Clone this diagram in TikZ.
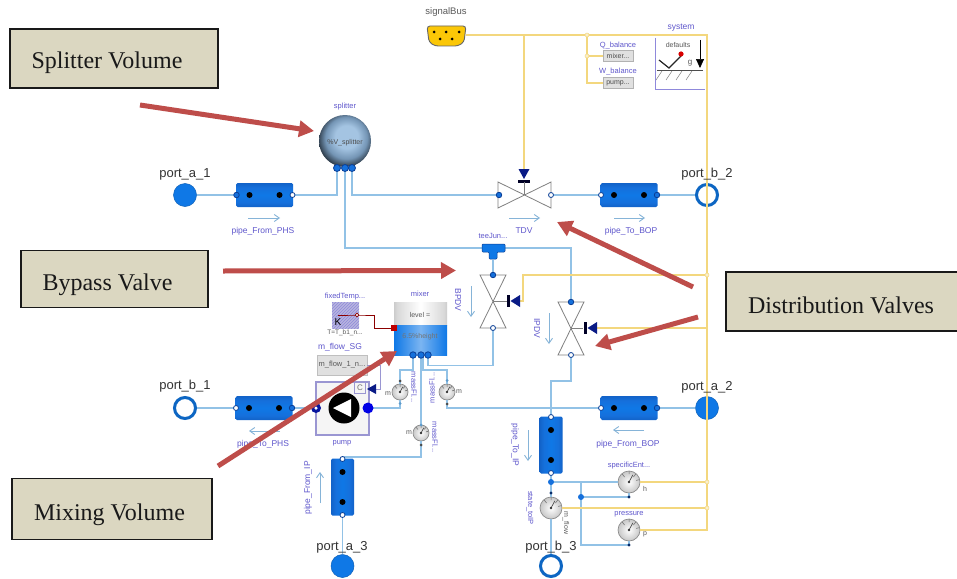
\documentclass[tikz,border=0pt]{standalone}
\usepackage{fontspec}
\setmainfont{Liberation Serif}
\setsansfont{Liberation Sans}
\usetikzlibrary{arrows.meta,patterns,calc}
\definecolor{wireblue}{HTML}{92C2E6}
\definecolor{wiredark}{HTML}{5E9BCB}
\definecolor{busyellow}{HTML}{F3D77E}
\definecolor{labelpurple}{HTML}{5F57CC}
\definecolor{portblue}{HTML}{0F78E6}
\definecolor{pipeblue}{HTML}{1570DC}
\definecolor{pipedark}{HTML}{0B3F96}
\definecolor{redarrow}{HTML}{BE4D4A}
\definecolor{boxfill}{HTML}{DBD7C1}
\definecolor{navyctl}{HTML}{0A1B86}
\definecolor{pumpline}{HTML}{9A96D2}
\pgfdeclareverticalshading{pipeshade}{100bp}{
  color(0bp)=(pipedark); color(35bp)=(pipeblue); color(50bp)=(portblue); color(65bp)=(pipeblue); color(100bp)=(pipedark)}
\pgfdeclarehorizontalshading{tanktop}{100bp}{
  color(0bp)=(black!60); color(28bp)=(black!15); color(50bp)=(white); color(72bp)=(black!15); color(100bp)=(black!60)}
\pgfdeclarehorizontalshading{tankblue}{100bp}{
  color(0bp)=(pipedark); color(25bp)=(portblue); color(50bp)=(portblue!55!white); color(75bp)=(portblue); color(100bp)=(pipedark)}
\definecolor{ballA}{HTML}{A4C4E2}
\definecolor{ballB}{HTML}{7495B5}
\definecolor{ballC}{HTML}{2E3C4A}
\pgfdeclareradialshading{ballshade}{\pgfpoint{2bp}{5bp}}{
  color(0bp)=(ballA); color(11bp)=(ballA); color(20bp)=(ballB); color(27bp)=(ballC); color(50bp)=(ballC)}
\tikzset{
  wire/.style={draw=wireblue,line width=1.1pt},
  bus/.style={draw=busyellow,line width=1.5pt},
  plab/.style={font=\sffamily\fontsize{13}{15}\selectfont,text=black!80,inner sep=0pt},
  vlab/.style={font=\sffamily\fontsize{8.5}{10}\selectfont,text=labelpurple,inner sep=0pt},
  slab/.style={font=\sffamily\fontsize{7.5}{9}\selectfont,text=labelpurple,inner sep=0pt},
  gtxt/.style={font=\sffamily\fontsize{7}{9}\selectfont,text=black!65,inner sep=0pt},
  portA/.style={circle,fill=portblue,draw=portblue!80!black,line width=.5pt,minimum size=23pt,inner sep=0pt},
  portB/.style={circle,fill=white,draw=portblue!85!black,line width=3pt,minimum size=21pt,inner sep=0pt},
  hpipe/.style={rectangle,rounded corners=1.5pt,minimum width=57pt,minimum height=24pt,inner sep=0pt,shading=pipeshade},
  vpipe/.style={rectangle,rounded corners=1.5pt,minimum width=23pt,minimum height=57pt,inner sep=0pt,shading=pipeshade,shading angle=90},
  pdot/.style={circle,fill=black,minimum size=6pt,inner sep=0pt},
  oend/.style={circle,fill=white,draw=pipedark,line width=.8pt,minimum size=5pt,inner sep=0pt},
  fend/.style={circle,fill=pipeblue,draw=pipedark,line width=.8pt,minimum size=5.5pt,inner sep=0pt},
  flow/.style={draw=wiredark!75,line width=.9pt,-{Straight Barb[length=5pt,width=7pt]}},
  callout/.style={draw=redarrow,line width=5pt,-{Triangle[length=15pt,width=16pt,fill=redarrow]}},
  tbox/.style={rectangle,draw=black!90,line width=1.6pt,fill=boxfill,inner sep=0pt},
  btxt/.style={inner sep=0pt,anchor=base,text=black!90,font=\rmfamily\fontsize{24}{28}\selectfont},
  ybus/.style={circle,fill=busyellow!40,draw=busyellow,line width=.5pt,minimum size=4pt,inner sep=0pt},
  btn/.style={rectangle,fill=black!12,draw=black!30,line width=.6pt,inner sep=0pt,font=\sffamily\fontsize{7}{8}\selectfont,text=black!70},
}
\newcommand{\hvalve}[3]{% name x y
  \fill[white] (#2-26,#3-13) -- (#2,#3) -- (#2-26,#3+13) -- cycle (#2+27,#3-13) -- (#2,#3) -- (#2+27,#3+13) -- cycle;
  \draw[black!50,line width=.8pt] (#2-26,#3-13) -- (#2+27,#3+13) -- (#2+27,#3-13) -- (#2-26,#3+13) -- cycle;
}
\newcommand{\vvalve}[3]{%
  \fill[white] (#2-13,#3-26) -- (#2+13,#3-26) -- (#2-13,#3+27) -- (#2+13,#3+27) -- cycle;
  \draw[black!50,line width=.8pt] (#2-13,#3-26) -- (#2+13,#3-26) -- (#2-13,#3+27) -- (#2+13,#3+27) -- cycle;
}
\newcommand{\ctlh}[2]{% bar x, y
  \fill[navyctl] (#1+2.5,#2-0) -- (#1+12,#2-6) -- (#1+12,#2+6) -- cycle;
  \fill[black!85!blue] (#1-1.2,#2-6) rectangle (#1+2,#2+6);
}
\newcommand{\meter}[4]{% name x y r
  \node[circle,minimum size=#4*2 pt,inner sep=0pt,draw=black!45,line width=.7pt,inner color=white,outer color=black!22] (#1) at (#2,#3) {};
  \draw[black!60,line width=.5pt] (#2,#3-#4) -- (#2,#3-#4+3) (#2+#4*.6,#3-#4*.7) -- (#2+#4*.4,#3-#4*.45) (#2-#4*.6,#3-#4*.7) -- (#2-#4*.4,#3-#4*.45) (#2+#4*.9,#3-#4*.2) -- (#2+#4*.65,#3-#4*.15);
  \draw[black!70,line width=.7pt] (#2,#3) -- (#2+#4*.35,#3-#4*.65);
  \fill[black!80] (#2,#3) circle (1.4pt);
}
\begin{document}
\begin{tikzpicture}[x=1pt,y=-1pt]
\useasboundingbox (0,0) rectangle (957,578);
\fill[white] (0,0) rectangle (957,578);

%% anchors of the components
\node[portA] (pa1) at (185,195) {};
\node[portB] (pb2) at (707,195) {};
\node[portB] (pb1) at (185,408) {};
\node[portA] (pa2) at (707,408) {};
\node[portA] (pa3) at (342.5,566) {};
\node[portB] (pb3) at (551,566) {};

\coordinate (bus) at (466,35);
\coordinate (j1) at (587,35);
\coordinate (j2) at (587,56);
\coordinate (j3) at (707,35);
\coordinate (tdvctl) at (524,35);
\coordinate (tdvtip) at (524,170);
\coordinate (sp1) at (337,168);
\coordinate (sp2) at (345,168);
\coordinate (sp3) at (352,168);
\coordinate (tdvL) at (499,195);
\coordinate (tdvR) at (551,195);
\coordinate (teeL) at (482,248);
\coordinate (teeR) at (505,248);
\coordinate (teeB) at (493,260);
\coordinate (bpT) at (493,275);
\coordinate (bpB) at (493,328);
\coordinate (ipT) at (571,302);
\coordinate (ipB) at (571,355);
\coordinate (mxA) at (413,355);
\coordinate (mxB) at (421,355);
\coordinate (mxC) at (423,355);
\coordinate (mxD) at (428,355);
\coordinate (pumpL) at (316,408);
\coordinate (pumpR) at (368,408);
\coordinate (wy1) at (707,275);
\coordinate (wy2) at (707,328);
\coordinate (wy3) at (707,482);
\coordinate (wy4) at (707,508);
\coordinate (wy5) at (707,530);
\coordinate (tjn) at (581,497);
\coordinate (tjt) at (551,482);

%% pipes
\node[hpipe] (pFP) at (264.5,195) {};
\node[hpipe] (pTB) at (629,195) {};
\node[hpipe] (pTP) at (264,408) {};
\node[hpipe] (pFB) at (629,408) {};
\node[vpipe] (pFI) at (342.5,487) {};
\node[vpipe] (pTI) at (551,445) {};

%% meters
\meter{mA}{400}{392}{8}
\meter{mB}{447}{392}{8}
\meter{mC}{421}{433}{8}
\meter{mD}{551}{508}{11}
\meter{mE}{629}{482}{11}
\meter{mF}{629}{530}{11}

%% fluid wires
\draw[wire] (pa1) -- (pFP);
\draw[wire] (pFP.east) -| (sp1);
\draw[wire] (sp3) |- (tdvL);
\draw[wire] (tdvR) -- (pTB);
\draw[wire] (pTB) -- (pb2);
\draw[wire] (sp2) |- (teeL);
\draw[wire] (teeB) -- (bpT);
\draw[wire] (teeR) -| (ipT);
\draw[wire] (bpB) -- (493,365.5) -- (428,365.5) -- (mxD);
\draw[wire] (ipB) -- (571,381) -- (551,381) -- (pTI.north);
\draw[wire] (pa2) -- (pFB);
\draw[wire] (pFB.west) -- (447,408) -- (mB.south);
\draw[wire] (mB.north) -- (447,370) -- (423,370) -- (mxC);
\draw[wire] (mxA) -- (413,370) -- (400,370) -- (mA.north);
\draw[wire] (mA.south) -- (400,408) -- (pumpR);
\draw[wire] (pumpL) -- (pTP);
\draw[wire] (pTP) -- (pb1);
\draw[wire] (mxB) -- (mC.north);
\draw[wire] (mC.south) -- (421,457) -- (342.5,457) -- (pFI.north);
\draw[wire] (pFI) -- (pa3);
\draw[wire] (pTI.south) -- (mD.north);
\draw[wire] (mD.south) -- (pb3);
\draw[wire] (tjt) -- (mE.west);
\draw[wire] (tjn) -- (629,497) -- (mE.south);
\draw[wire] (581,482) -- (581,545) -- (629,545) -- (mF.south);

%% bus wires
\draw[bus] (bus) -- (j3) -- (wy5) -- (mF.east);
\draw[bus] (tdvctl) -- (tdvtip);
\draw[bus] (j1) -- (587,83) -- (603,83);
\draw[bus] (j2) -- (603,56);
\draw[bus] (wy1) -- (523,275) -- (523,301) -- (520,301);
\draw[bus] (wy2) -- (597,328);
\draw[bus] (wy3) -- (mE.east);
\draw[bus] (wy4) -- (mD.east);
\foreach \p in {j1,j2,wy1,wy3,wy4} \node[ybus] at (\p) {};

%% pipe decorations
\foreach \n in {pFP,pTB,pTP,pFB}{
  \path (\n) ++(-15,0) node[pdot] {} ++(30,0) node[pdot] {};
}
\foreach \n in {pFI,pTI}{
  \path (\n) ++(0,-15) node[pdot] {} ++(0,30) node[pdot] {};
}
\node[fend] at (236.5,195) {}; \node[oend] at (292.5,195) {};
\node[fend] at (657,195) {}; \node[oend] at (601,195) {};
\node[oend] at (236,408) {}; \node[fend] at (292,408) {};
\node[oend] at (601,408) {}; \node[fend] at (657,408) {};
\node[oend] at (342.5,459) {}; \node[oend] at (342.5,515) {};
\node[oend] at (551,417) {}; \node[oend] at (551,473) {};

%% splitter
\node[circle,minimum size=52pt,inner sep=0pt,shading=ballshade] (splitter) at (345,141) {};
\node[font=\sffamily\fontsize{7}{8}\selectfont,text=black!70,inner sep=0pt] at (345,143) {\%V\_splitter};
\node[slab] at (345,107) {splitter};
\foreach \p in {sp1,sp2,sp3} \node[fend,minimum size=7pt,draw=pipedark] at (\p) {};

%% signal bus
\filldraw[fill=yellow!60!orange,draw=black!60,line width=.9pt,rounded corners=3pt] (427,26) -- (466,26) -- (464,42) -- (458,46) -- (435,46) -- (429,42) -- cycle;
\foreach \x/\y in {434/32,446/32,459/32,440/39,452/39} \fill[black] (\x,\y) circle (1.5pt);
\node[inner sep=0pt,text=black!65,font=\sffamily\fontsize{9.5}{11}\selectfont] at (446,12.5) {signalBus};

%% real-output blocks
\node[btn,minimum width=30pt,minimum height=11pt] (bmix) at (618,56) {mixer...};
\node[btn,minimum width=30pt,minimum height=11pt] (bpum) at (618,83) {pump...};
\node[slab] at (618,46) {Q\_balance};
\node[slab] at (618,72) {W\_balance};

%% system
\draw[labelpurple!70,line width=.9pt] (655,38) -- (655,89) -- (705,89);
\node[vlab] at (681,28) {system};
\node[gtxt] at (678,45) {defaults};
\draw[black!70,line width=.7pt] (657,70) -- (703,70);
\foreach \x in {662,672,682,692} \draw[black!50,line width=.5pt] (\x,71) -- (\x-6,80);
\draw[black!85,line width=1.2pt] (659,60) -- (669,68) -- (681,56);
\fill[red!85!black] (681,54) circle (2.6pt);
\node[gtxt,font=\sffamily\fontsize{8}{9}\selectfont] at (690,63) {g};
\draw[black,line width=.7pt,-{Triangle[length=9pt,width=8pt]}] (700,40) -- (700,68);

%% TDV
\hvalve{tdv}{524}{195}
\node[fend] at (tdvL) {}; \node[oend] at (tdvR) {};
\fill[navyctl] (524,179) -- (518.5,169) -- (529.5,169) -- cycle;
\fill[black!85!blue] (518,180) rectangle (530,182.5);
\draw[black!50,line width=.7pt] (524,182) -- (524,195);
\node[vlab] at (524,231) {TDV};
\draw[flow] (509,218) -- (540,218);

%% tee junction
\filldraw[fill=portblue,draw=pipedark,line width=.5pt,rounded corners=1pt] (482,244) -- (505,244) -- (505,252) -- (497,252) -- (497,259) -- (489,259) -- (489,252) -- (482,252) -- cycle;
\node[slab] at (493,236) {teeJun...};

%% BPDV and IPDV
\vvalve{bp}{493}{301}
\draw[black!50,line width=.7pt] (493,301) -- (507,301);
\ctlh{508}{301}
\node[fend] at (bpT) {}; \node[oend] at (bpB) {};
\node[vlab,rotate=-90] at (458,300) {BPDV};
\draw[flow] (471,286) -- (471,317);
\vvalve{ip}{571}{328}
\draw[black!50,line width=.7pt] (571,328) -- (583,328);
\ctlh{585}{328}
\node[fend] at (ipT) {}; \node[oend] at (ipB) {};
\node[vlab,rotate=-90] at (537,328) {IPDV};
\draw[flow] (549,313) -- (549,344);

%% fixed temperature
\node[rectangle,minimum size=27pt,inner sep=0pt,fill=pumpline!70] (ftemp) at (345.5,315) {};
\path[pattern=north east lines,pattern color=labelpurple!70] (332,302) rectangle (359,328);
\node[inner sep=0pt,font=\sffamily\fontsize{10}{11}\selectfont,text=black] at (338,322) {K};
\node[slab] at (345,297) {fixedTemp...};
\node[gtxt,font=\sffamily\fontsize{6.5}{8}\selectfont] at (345,332.5) {T=T\_b1\_n...};

%% mixer
\shade[shading=tanktop] (394,302) rectangle (447,325);
\shade[shading=tankblue] (394,325) rectangle (447,355);
\coordinate (mxH) at (394,328);
\draw[red!55!black,line width=.9pt] (338,315) -- (357,315) -- (374,315) -- (374,328) -- (mxH);
\fill[red!75!black] (391,325) rectangle (397,331);
\filldraw[fill=white,draw=red!55!black,line width=.7pt] (357,315) circle (1.8pt);
\node[slab] at (420,294) {mixer};
\node[gtxt] at (420,315) {level =};
\node[gtxt,text=black!55] at (420,337) {6.5\%height};
\foreach \p in {mxA,mxB,mxD} \node[fend,minimum size=6.5pt] at (\p) {};

%% pump and its source
\node[rectangle,draw=pumpline,fill=black!4,line width=1.1pt,minimum width=53pt,minimum height=53pt,inner sep=0pt] (pump) at (342.5,408.5) {};
\node[circle,fill=black,minimum size=31pt,inner sep=0pt] (rotor) at (344,408) {};
\fill[white] (333,408) -- (351,399) -- (351,417) -- cycle;
\node[circle,fill=navyctl!80!blue,minimum size=10pt,inner sep=0pt] at (pumpL) {};
\node[circle,fill=white,minimum size=3.5pt,inner sep=0pt] at (pumpL) {};
\node[circle,fill=blue!90!black,minimum size=11pt,inner sep=0pt] at (pumpR) {};
\node[rectangle,draw=pumpline,fill=black!4,line width=.7pt,minimum size=11pt,inner sep=0pt,font=\sffamily\fontsize{8}{9}\selectfont,text=black!55] (cbox) at (360,388) {C};
\node[slab] at (342,443) {pump};
\node[rectangle,fill=black!12,draw=black!25,line width=.6pt,minimum width=50pt,minimum height=20pt,inner sep=0pt,font=\sffamily\fontsize{7.5}{9}\selectfont,text=black!65] (mflow) at (342,365) {m\_flow\_1\_n...};
\node[vlab] at (340,347) {m\_flow\_SG};
\coordinate (ctip) at (372,389);
\draw[pumpline,line width=1pt] (mflow.east) -- (380,365) -- (380,389) -- (ctip);
\fill[navyctl] (367,389) -- (376,384) -- (376,394) -- cycle;

%% flow arrows and labels
\draw[flow] (248,218) -- (280,218);
\node[vlab] at (263,231) {pipe\_From\_PHS};
\draw[flow] (614,218) -- (645,218);
\node[vlab] at (631,231) {pipe\_To\_BOP};
\draw[flow] (280,431) -- (249,431);
\node[vlab] at (263,444) {pipe\_To\_PHS};
\draw[flow] (644,430) -- (613,430);
\node[vlab] at (628,444) {pipe\_From\_BOP};
\draw[flow] (320,503) -- (320,472);
\node[vlab,rotate=90] at (308,488) {pipe\_From\_IP};
\draw[flow] (528,430) -- (528,461);
\node[vlab,rotate=-90] at (515,445) {pipe\_To\_IP};
\node[slab,rotate=-90] at (530,508) {state\_toIP};
\node[gtxt,rotate=-90] at (566,523) {m\_flow};
\node[slab,rotate=-90] at (414,387) {massFl...};
\node[slab,rotate=90] at (432,388) {massFl...};
\node[slab,rotate=-90] at (435,437) {massFl...};
\node[gtxt] at (388,394) {m};
\node[gtxt] at (459,392) {m};
\node[gtxt] at (409,433) {m};
\fill[black!70] (400,381) circle (1.5pt);
\fill[wiredark] (400,403.5) circle (1.5pt);
\fill[wiredark] (447,380.5) circle (1.5pt);
\fill[black!70] (447,404) circle (1.5pt);
\fill[wiredark] (421,425) circle (1.5pt);
\fill[black!70] (421,445) circle (1.5pt);

%% meter labels and junctions
\node[slab] at (629,466) {specificEnt...};
\node[slab] at (629,514) {pressure};
\node[gtxt] at (645,489) {h};
\node[gtxt] at (645,534) {p};
\node[circle,fill=pipeblue,minimum size=6pt,inner sep=0pt] at (tjt) {};
\node[circle,fill=pipeblue,minimum size=6pt,inner sep=0pt] at (tjn) {};
\fill[pipedark!70!black] (551,493) circle (1.6pt);
\fill[pipedark!70!black] (629,497) circle (1.6pt);
\fill[pipedark!70!black] (629,545) circle (1.6pt);

%% port labels
\node[plab] at (185,174) {port\_a\_1};
\node[plab] at (707,174) {port\_b\_2};
\node[plab] at (185,386) {port\_b\_1};
\node[plab] at (707,387) {port\_a\_2};
\node[plab] at (342,547) {port\_a\_3};
\node[plab] at (551,547) {port\_b\_3};

%% callouts
\node[tbox,minimum width=208pt,minimum height=59pt] (bxS) at (114,58.5) {};
\node[btxt] at (107,68) {Splitter Volume};
\node[tbox,minimum width=187pt,minimum height=57pt] (bxB) at (114.5,279) {};
\node[btxt] at (107.5,290) {Bypass Valve};
\node[tbox,minimum width=240pt,minimum height=59pt] (bxD) at (846,301.5) {};
\node[btxt] at (841,313) {Distribution Valves};
\node[tbox,minimum width=200pt,minimum height=61pt] (bxM) at (112,509) {};
\node[btxt] at (109.5,520) {Mixing Volume};
\coordinate (c1) at (140,105); \coordinate (c1t) at (314,131);
\coordinate (c2) at (223,271); \coordinate (c2t) at (456,270.5);
\coordinate (c3) at (693,287); \coordinate (c3t) at (557,222);
\coordinate (c4) at (698,317); \coordinate (c4t) at (595,346);
\coordinate (c5) at (218,466); \coordinate (c5t) at (397,351);
\draw[callout] (c1) -- (c1t);
\draw[callout] (c2) -- (c2t);
\draw[callout] (c3) -- (c3t);
\draw[callout] (c4) -- (c4t);
\draw[callout] (c5) -- (c5t);
\end{tikzpicture}
\end{document}
